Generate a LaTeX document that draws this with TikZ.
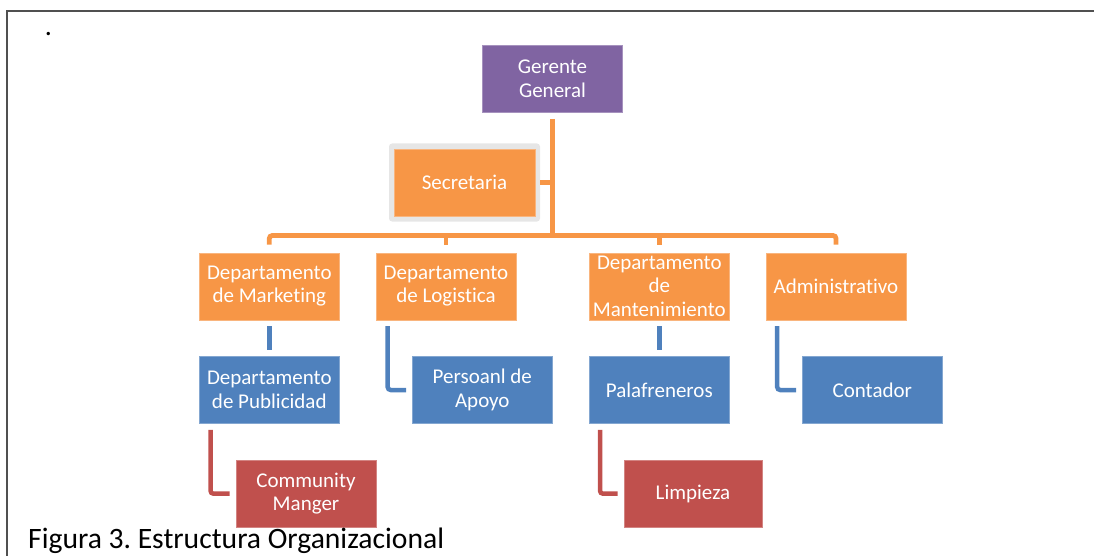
\documentclass[tikz,border=0pt]{standalone}
\usepackage{fontspec}
\setmainfont{Carlito}[Ligatures=NoCommon]
\frenchspacing
\definecolor{orgpurple}{HTML}{8064A2}
\definecolor{orgorange}{HTML}{F79646}
\definecolor{orgblue}{HTML}{4F81BD}
\definecolor{orgred}{HTML}{C0504D}
\definecolor{framegray}{HTML}{E6E6E6}
\definecolor{rulegray}{HTML}{505050}
\begin{document}
\begin{tikzpicture}[x=1pt,y=-1pt,
  box/.style={rectangle, minimum width=140pt, minimum height=67pt, inner sep=0pt,
    text=white, align=center, font=\fontsize{21}{23.5}\selectfont,
    fill=#1, draw=#1!70!white, line width=0.6pt},
  conn/.style={draw=#1, line width=4.8pt, rounded corners=3pt}]
\useasboundingbox (0,0) rectangle (1094,556);

% page frame (top and left rules)
\draw[rulegray, line width=2pt] (1094,11) -- (7,11) -- (7,556);
\node[font=\fontsize{28}{32}\selectfont, inner sep=0pt, anchor=base] (dot) at (48.5,36) {.};

% top level
\node[box=orgpurple] (ger) at (552.5,79) {Gerente\\General};
\node[fill=framegray, rounded corners=3pt, minimum width=151pt, minimum height=78pt, inner sep=0pt] (secf) at (464.5,182.5) {};
\node[box=orgorange, minimum width=141pt] (sec) at (secf) {Secretaria};

% departments
\node[box=orgorange] (mkt) at (269.3,286.3) {Departamento\\de Marketing};
\node[box=orgorange] (log) at (446,286.3) {Departamento\\de Logistica};
\node[box=orgorange] (man) at (659.3,286.3) {Departamento\\de\\Mantenimiento};
\node[box=orgorange] (adm) at (836,286.3) {Administrativo};

% second level
\node[box=orgblue] (pub) at (269.3,390) {Departamento\\de Publicidad};
\node[box=orgblue] (per) at (482.3,390) {Persoanl de\\Apoyo};
\node[box=orgblue] (pal) at (659.3,390) {Palafreneros};
\node[box=orgblue] (con) at (872.3,390) {Contador};

% third level
\node[box=orgred] (cm) at (306,493.7) {Community\\Manger};
\node[box=orgred, minimum width=138pt] (lim) at (693,493.7) {Limpieza};

% orange connectors
\coordinate (bus) at (552.4,235.5);
\draw[conn=orgorange] ([yshift=-6pt]ger.south) -- (ger.south |- bus);
\draw[conn=orgorange] (secf.east) -- (secf.east -| bus);
\draw[conn=orgorange] ([yshift=8pt]mkt.north) |- (bus) -| ([yshift=8pt]adm.north);
\draw[conn=orgorange] ([yshift=8pt]log.north) -- (log.north |- bus);
\draw[conn=orgorange] ([yshift=8pt]man.north) -- (man.north |- bus);

% blue connectors
\draw[conn=orgblue, line width=4.5pt] ([yshift=-6pt]mkt.south) -- ([yshift=6pt]pub.north);
\draw[conn=orgblue, line width=4.5pt] ([xshift=12pt,yshift=-6pt]log.south west) |- ([xshift=-6pt]per.west);
\draw[conn=orgblue, line width=4.5pt] ([yshift=-6pt]man.south) -- ([yshift=6pt]pal.north);
\draw[conn=orgblue, line width=4.5pt] ([xshift=11.5pt,yshift=-6pt]adm.south west) |- ([xshift=-6pt]con.west);

% red connectors
\draw[conn=orgred, line width=4.5pt] ([xshift=11.5pt,yshift=-6pt]pub.south west) |- ([xshift=-6pt]cm.west);
\draw[conn=orgred, line width=4.5pt] ([xshift=11pt,yshift=-6pt]pal.south west) |- ([xshift=-6pt]lim.west);

% caption
\node[anchor=base west, inner sep=0pt, font=\fontsize{29.6}{34}\selectfont] (cap) at (28,548) {Figura 3. Estructura Organizacional};
\end{tikzpicture}
\end{document}
